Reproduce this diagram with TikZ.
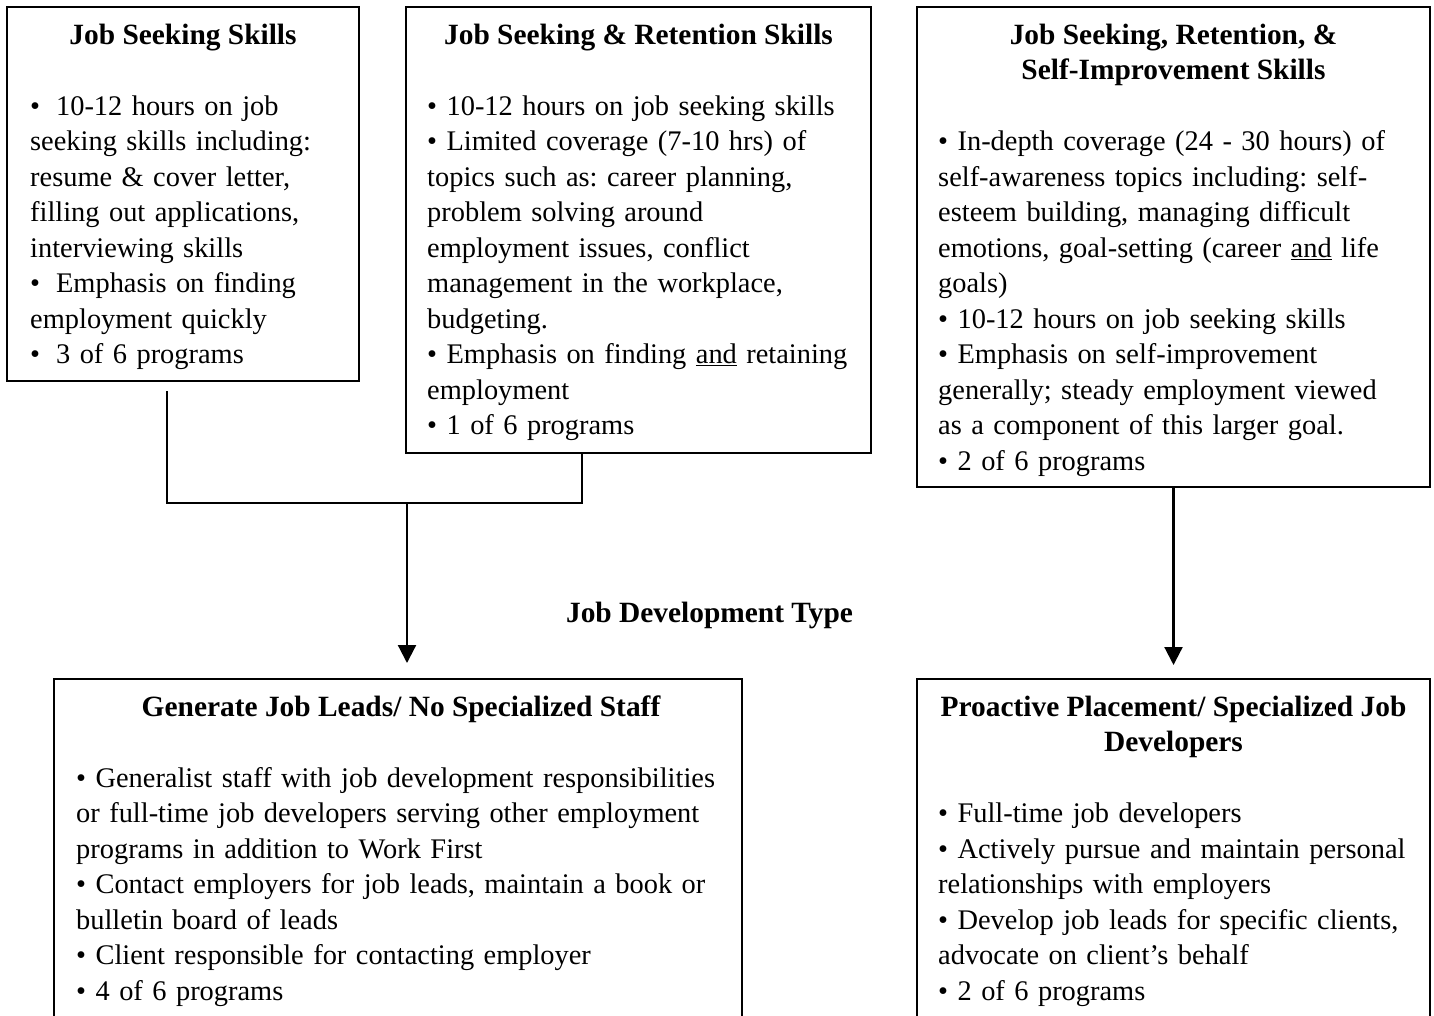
\documentclass[tikz,border=0pt]{standalone}
\usepackage{fontspec}
\setmainfont{Liberation Serif}
\usetikzlibrary{arrows.meta}
\newcommand\fs{\fontsize{29.4pt}{35.5pt}\selectfont\frenchspacing}
\newcommand\fb{\fontsize{28.4pt}{35.5pt}\selectfont\frenchspacing}
\newcommand\st{\rule{0pt}{24pt}}
\tikzset{
  box/.style={draw, line width=2.4pt, inner sep=0pt, outer sep=0pt, anchor=north west},
  ttl/.style={font=\bfseries\fs, align=center, inner sep=0pt, anchor=north},
  body/.style={font=\fb, align=left, inner sep=0pt, anchor=north west, text width=#1},
  conn/.style={line width=2.2pt},
  arr/.style={conn, -{Triangle[width=18pt,length=18pt]}},
}
\begin{document}
\begin{tikzpicture}[x=1pt,y=-1pt]
\useasboundingbox (0,0) rectangle (1434,1015);
\clip (0,0) rectangle (1434,1015);
\fill[white] (0,0) rectangle (1434,1015);

% boxes
\node[box, minimum width=352pt, minimum height=374pt] (A) at (7,7) {};
\node[box, minimum width=465pt, minimum height=446pt] (B) at (406,7) {};
\node[box, minimum width=513pt, minimum height=480pt] (C) at (917,7) {};
\node[box, minimum width=688pt, minimum height=370pt] (D) at (54,679) {};
\node[box, minimum width=513pt, minimum height=370pt] (E) at (917,679) {};

% titles
\node[ttl] (tA) at (183,20) {\st Job Seeking Skills};
\node[ttl] (tB) at (638.5,20) {\st Job Seeking \& Retention Skills};
\node[ttl] (tC) at (1173.5,20) {\st Job Seeking, Retention, \&\\Self-Improvement Skills};
\node[ttl] (tD) at (401,692) {\st Generate Job Leads/ No Specialized Staff};
\node[ttl] (tE) at (1173.5,692) {\st Proactive Placement/ Specialized Job\\Developers};

% bodies
\node[body=320pt] (bA) at (30,91) {\st •\hspace{16pt}10-12 hours on job\\
seeking skills including:\\
resume \& cover letter,\\
filling out applications,\\
interviewing skills\\
•\hspace{16pt}Emphasis on finding\\
employment quickly\\
•\hspace{16pt}3 of 6 programs};

\node[body=440pt] (bB) at (427,91) {\st • 10-12 hours on job seeking skills\\
• Limited coverage (7-10 hrs) of\\
topics such as: career planning,\\
problem solving around\\
employment issues, conflict\\
management in the workplace,\\
budgeting.\\
• Emphasis on finding \underline{and} retaining\\
employment\\
• 1 of 6 programs};

\node[body=490pt] (bC) at (938,126.5) {\st • In-depth coverage (24 - 30 hours) of\\
self-awareness topics including: self-\\
esteem building, managing difficult\\
emotions, goal-setting (career \underline{and} life\\
goals)\\
• 10-12 hours on job seeking skills\\
• Emphasis on self-improvement\\
generally; steady employment viewed\\
as a component of this larger goal.\\
• 2 of 6 programs};

\node[body=720pt] (bD) at (76,763) {\st • Generalist staff with job development responsibilities\\
or full-time job developers serving other employment\\
programs in addition to Work First\\
• Contact employers for job leads, maintain a book or\\
bulletin board of leads\\
• Client responsible for contacting employer\\
• 4 of 6 programs};

\node[body=490pt] (bE) at (938,798.5) {\st • Full-time job developers\\
• Actively pursue and maintain personal\\
relationships with employers\\
• Develop job leads for specific clients,\\
advocate on client’s behalf\\
• 2 of 6 programs};

% label
\node[font=\bfseries\fs, inner sep=0pt, anchor=base] (jdt) at (709.5,622) {Job Development Type};

% connectors
\coordinate (aOut) at (167,391);
\coordinate (bx) at (582,0);
\coordinate (j) at (407,503);
\draw[conn] (aOut) |- (j) -| (bx |- B.south);
\draw[arr, shorten >=16pt] (j) -- (j |- D.north);
\draw[arr, shorten >=14pt] (C.south) -- (E.north);
\end{tikzpicture}
\end{document}
